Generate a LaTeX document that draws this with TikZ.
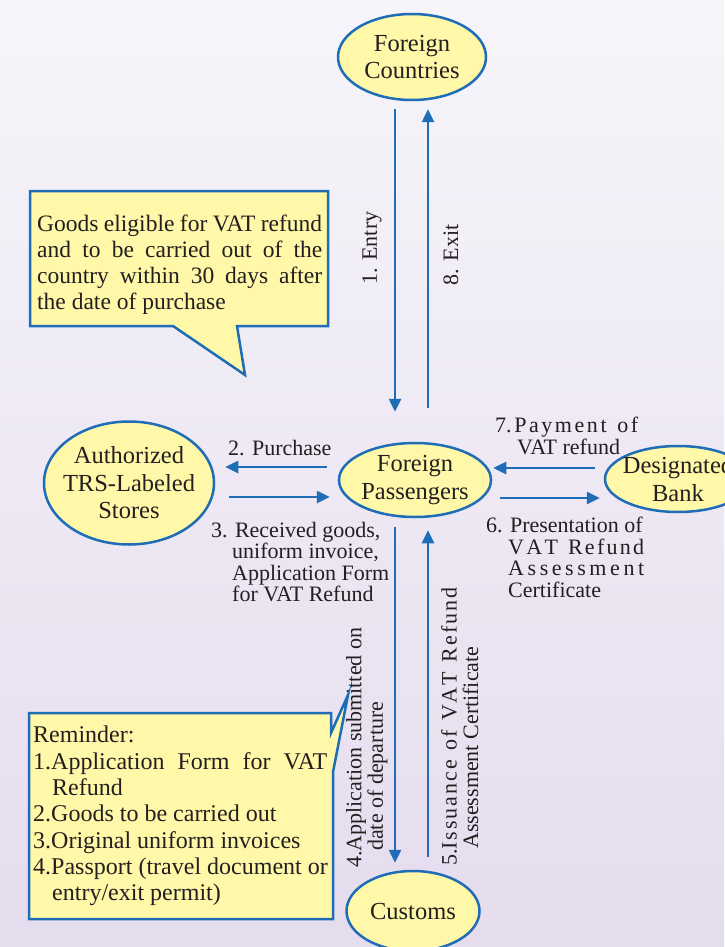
\documentclass[tikz,border=0pt]{standalone}
\usepackage{fontspec}
\setmainfont{Liberation Serif}
\usetikzlibrary{shapes.geometric,arrows.meta}

\definecolor{flowblue}{HTML}{1F6CB7}
\definecolor{noteyellow}{HTML}{FFF8A8}
\definecolor{bgtop}{HTML}{F6F5FA}
\definecolor{bgbottom}{HTML}{E5DCEE}
\definecolor{ink}{HTML}{231F20}

\newcommand{\spreadline}[2]{\makebox[#1][s]{#2}}

\tikzset{
  oval/.style={ellipse, draw=flowblue, line width=2.5pt, fill=noteyellow, inner sep=0pt},
  ovaltext/.style={align=center, text=ink, font=\fontsize{24.5}{27.5}\selectfont},
  flow/.style={draw=flowblue, line width=2.5pt, -{Triangle[length=13pt,width=12pt]}},
  note/.style={draw=flowblue, line width=2.5pt, fill=noteyellow, line join=miter},
  tag/.style={inner sep=0pt, text=ink, align=left, font=\fontsize{22}{21.5}\selectfont},
  notetext/.style={inner sep=0pt, text=ink, align=left, anchor=north west}
}

\begin{document}
\begin{tikzpicture}[x=1pt, y=-1pt]
  \shade[top color=bgtop, bottom color=bgbottom] (0,0) rectangle (724,947);
  \useasboundingbox (0,0) rectangle (724,947);

  \node[oval, minimum width=148pt, minimum height=86pt, label={[ovaltext]center:Foreign\\Countries}] (cou) at (412,57) {};
  \node[oval, minimum width=170pt, minimum height=123pt, label={[ovaltext]center:Authorized\\TRS-Labeled\\Stores}] (sto) at (129,483) {};
  \node[oval, minimum width=152pt, minimum height=74pt, label={[ovaltext]center:Foreign\\Passengers}] (pas) at (415,480) {};
  \node[oval, minimum width=146pt, minimum height=66pt, label={[ovaltext]center:Designated\\Bank}] (ban) at (678,479) {};
  \node[oval, minimum width=133pt, minimum height=80pt, label={[ovaltext]center:Customs}] (cus) at (413,911) {};

  \draw[flow, shorten <=8pt, shorten >=30pt] ([xshift=-17pt]cou.south) -- ([xshift=-20pt]pas.north);
  \draw[flow, shorten <=34pt, shorten >=8pt] ([xshift=13pt]pas.north) -- ([xshift=16pt]cou.south);
  \draw[flow, shorten <=11pt, shorten >=10pt] ([yshift=13pt]pas.west) -- ([yshift=16pt]sto.east);
  \draw[flow, shorten <=14pt, shorten >=8pt] ([yshift=-14pt]sto.east) -- ([yshift=-17pt]pas.west);
  \draw[flow, shorten <=9pt, shorten >=1pt] ([yshift=11pt]ban.west) -- ([yshift=12pt]pas.east);
  \draw[flow, shorten <=8pt, shorten >=4pt] ([yshift=-18pt]pas.east) -- ([yshift=-19pt]ban.west);
  \draw[flow, shorten <=9pt, shorten >=7pt] ([xshift=-20pt]pas.south) -- ([xshift=-18pt]cus.north);
  \draw[flow, shorten <=13pt, shorten >=12pt] ([xshift=15pt]cus.north) -- ([xshift=13pt]pas.south);

  \node[tag, rotate=90] (entry) at (372,248) {1. Entry};
  \node[tag, rotate=90] (exit) at (451,255) {8. Exit};
  \node[tag, anchor=north west] (buy) at (228,440) {2. Purchase};
  \node[tag, anchor=north west] (recv) at (211,522)
    {3. Received goods,\\\hspace*{21pt}uniform invoice,\\\hspace*{21pt}Application Form\\\hspace*{21pt}for VAT Refund};
  \node[tag, anchor=north west] (pay) at (495,417)
    {\spreadline{143pt}{7.\hfil P\hfil a\hfil y\hfil m\hfil e\hfil n\hfil t\hfil\hfil\ o\hfil f}\\\hspace*{22pt}VAT refund};
  \node[tag, anchor=north west] (show) at (486,517)
    {6. Presentation of\\\hspace*{22pt}\spreadline{136pt}{V\hfil A\hfil T\hfil\hfil\ R\hfil e\hfil f\hfil u\hfil n\hfil d}\\\hspace*{22pt}\spreadline{136pt}{A\hfil s\hfil s\hfil e\hfil s\hfil s\hfil m\hfil e\hfil n\hfil t}\\\hspace*{22pt}Certificate};
  \node[tag, rotate=90, anchor=north west] (apply) at (346,868)
    {4.Application submitted on\\\hspace*{17pt}date of departure};
  \node[tag, rotate=90, anchor=north west] (issue) at (441,866)
    {\spreadline{278pt}{5.I\hfil s\hfil s\hfil u\hfil a\hfil n\hfil c\hfil e\hfil\hfil\ o\hfil f\hfil\hfil\ V\hfil A\hfil T\hfil\hfil\ R\hfil e\hfil f\hfil u\hfil n\hfil d}\\\hspace*{17pt}Assessment Certificate};

  \draw[note] (30,191) -- (328,191) -- (328,326) -- (237,326) -- (245,375) -- (173,326) -- (30,326) -- cycle;
  \node[notetext, font=\fontsize{23.5}{26}\selectfont] (goods) at (37,215)
    {\spreadline{285pt}{Goods eligible for VAT refund}\\\spreadline{285pt}{and to be carried out of the}\\\spreadline{285pt}{country within 30 days after}\\the date of purchase};

  \draw[note] (29,713) -- (331,713) -- (331,733) -- (348,695) -- (333,772) -- (333,919) -- (29,919) -- cycle;
  \node[notetext, font=\fontsize{24}{26.3}\selectfont] (remind) at (33,726)
    {Reminder:\\\spreadline{294pt}{1.Application Form for VAT}\\\hspace*{19pt}Refund\\2.Goods to be carried out\\3.Original uniform invoices\\4.Passport (travel document or\\\hspace*{19pt}entry/exit permit)};
\end{tikzpicture}
\end{document}
